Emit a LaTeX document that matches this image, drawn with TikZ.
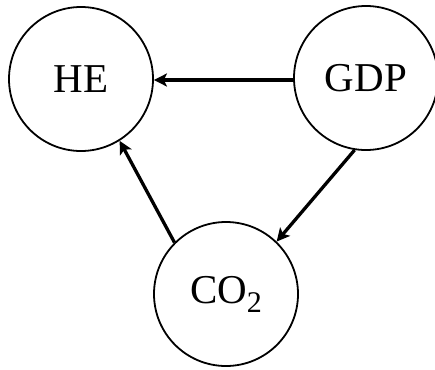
\documentclass[tikz,border=0pt]{standalone}
\usepackage{fontspec}
\setmainfont{Liberation Serif}
\usetikzlibrary{arrows.meta}
\begin{document}
\begin{tikzpicture}[x=1pt,y=-1pt,
  var/.style={circle,draw,line width=1.8pt,minimum size=144pt,inner sep=0pt,font=\fontsize{41}{41}\selectfont},
  link/.style={line width=3.3pt,-{Stealth[length=13pt,width=13pt,inset=3pt]}}]
\useasboundingbox (0,0) rectangle (435,369);
\node[var] (he) at (81,79) {HE};
\node[var] (gdp) at (366,78) {GDP};
\node[var] (co2) at (226,294) {CO\raisebox{-9pt}{\fontsize{30}{30}\selectfont 2}};
\draw[link] (gdp.west |- 0,80) -- (he.east |- 0,80);
\draw[link] (gdp.261) -- (co2.46);
\draw[link] (co2.135) -- (he.302);
\end{tikzpicture}
\end{document}
